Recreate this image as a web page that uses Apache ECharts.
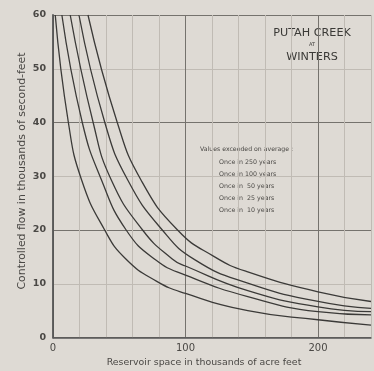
<!DOCTYPE html>
<html>
<head>
<meta charset="utf-8">
<script src="https://cdn.jsdelivr.net/npm/echarts@6/dist/echarts.min.js"></script>
<style>
html,body{margin:0;padding:0;background:#dedad4;}
#c{width:374px;height:371px;}
</style>
</head>
<body>
<div id="c"></div>
<script>
// Reservoir space (thousands of acre-feet), controlled flow (thousands of second-feet)
const once10  = [[1.7,60],[11.6,40],[21.6,29.3],[39,20],[55,14.6],[78,10.5],[100,8.2],[147,5.0],[200,3.3],[240,2.3]];
const once25  = [[6.7,60],[22.1,40],[36.6,29.3],[55.2,20],[77.6,14.4],[100,11.6],[147,7.6],[200,4.8],[240,4.2]];
const once50  = [[13,60],[30.3,40],[44,29.3],[67.6,20],[90,14.6],[100,13.3],[147,8.7],[200,5.7],[240,4.8]];
const once100 = [[19.6,60],[39.1,40],[56.4,29.3],[82.5,20],[107.5,14.4],[147,10.1],[200,6.7],[240,5.4]];
const once250 = [[26.4,60],[48.5,40],[66.4,29.3],[94,20],[122,15.0],[147,12.2],[200,8.5],[240,6.7]];
const legendTitle = 'Values exceeded on average :';
const legendLines = ['Once in 250 years','Once in 100 years','Once in  50 years','Once in  25 years','Once in  10 years'];
const xTitle = 'Reservoir space in thousands of acre feet';
const yTitle = 'Controlled flow in thousands of second-feet';

const chart = echarts.init(document.getElementById('c'), null, {renderer:'canvas'});
const heavy = '#75726d', light = '#c0bbb4', ink = '#3b3a38', txt = '#4a4845';
const F = 'DejaVu Sans';
const mk = (d) => ({type:'line', data:d, smooth:0.5, symbol:'none', clip:true,
  lineStyle:{color:ink, width:1.3}});
const legendGraphics = legendLines.map((t,i)=>({type:'text', x:219, y:162+i*12,
  style:{text:t, fontSize:6.3, fill:txt, fontFamily:F, verticalAlign:'middle'}}));
chart.setOption({
  backgroundColor:'#dedad4',
  animation:false,
  grid:{left:53, right:0, top:15, bottom:33.5},
  xAxis:{type:'value', min:0, max:240, interval:20,
    axisLine:{show:true, lineStyle:{color:'#555', width:1.5}},
    axisTick:{show:false},
    axisLabel:{interval:4, color:txt, fontSize:10, margin:6, fontFamily:F,
      formatter:(v)=> (v%100===0 ? String(v) : '')},
    splitLine:{show:true, lineStyle:{color:[heavy,light,light,light,light], width:1}}},
  yAxis:{type:'value', min:0, max:60, interval:10,
    axisLine:{show:true, lineStyle:{color:'#555', width:1.8}},
    axisTick:{show:false},
    axisLabel:{color:txt, fontSize:9.5, margin:7, fontWeight:'bold', fontFamily:F},
    splitLine:{show:true, lineStyle:{color:[heavy,light], width:1}}},
  series:[mk(once10), mk(once25), mk(once50), mk(once100), mk(once250)],
  graphic:[
    {type:'text', x:204, y:363, style:{text:xTitle, fontSize:9.4, fill:txt, align:'center', verticalAlign:'middle', fontFamily:F}},
    {type:'text', x:22, y:171, rotation:Math.PI/2, style:{text:yTitle, fontSize:10.9, fill:txt, align:'center', verticalAlign:'middle', fontFamily:F}},
    {type:'text', x:312, y:33, style:{text:'PUTAH CREEK', fontSize:11.2, fill:'#3a3936', align:'center', verticalAlign:'middle', fontFamily:F}},
    {type:'text', x:312, y:45, style:{text:'AT', fontSize:5, fill:'#3a3936', align:'center', verticalAlign:'middle', fontFamily:F}},
    {type:'text', x:312, y:57, style:{text:'WINTERS', fontSize:11.2, fill:'#3a3936', align:'center', verticalAlign:'middle', fontFamily:F}},
    {type:'text', x:200, y:149, style:{text:legendTitle, fontSize:6.2, fill:txt, fontFamily:F, verticalAlign:'middle'}}
  ].concat(legendGraphics)
});
</script>
</body>
</html>
